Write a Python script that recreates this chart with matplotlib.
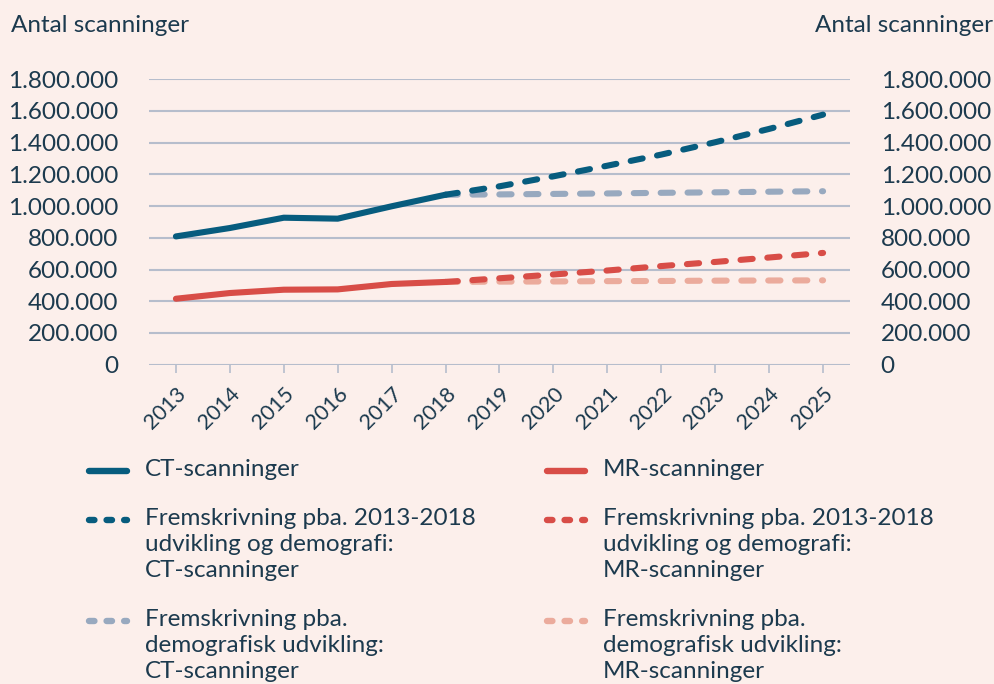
import matplotlib.pyplot as plt
from matplotlib.lines import Line2D
from matplotlib.ticker import FuncFormatter

plt.rcParams['font.family'] = ['Lato', 'DejaVu Sans']

years_hist = [2013, 2014, 2015, 2016, 2017, 2018]
years_proj = [2018, 2019, 2020, 2021, 2022, 2023, 2024, 2025]
all_years = list(range(2013, 2026))

ct = [809000, 862000, 927000, 921000, 999000, 1072000]
mr = [416000, 452000, 473000, 475000, 509000, 522000]

ct_trend = [1072000, 1125000, 1188000, 1255000, 1325000, 1403000, 1487000, 1577000]
mr_trend = [522000, 545000, 569000, 594000, 622000, 648000, 676000, 705000]
ct_demo = [1072000, 1074000, 1077000, 1080000, 1084000, 1087000, 1091000, 1094000]
mr_demo = [522000, 524000, 525000, 527000, 528000, 530000, 531000, 532000]

labels = [
    'CT-scanninger',
    'MR-scanninger',
    'Fremskrivning pba. 2013-2018\nudvikling og demografi:\nCT-scanninger',
    'Fremskrivning pba. 2013-2018\nudvikling og demografi:\nMR-scanninger',
    'Fremskrivning pba.\ndemografisk udvikling:\nCT-scanninger',
    'Fremskrivning pba.\ndemografisk udvikling:\nMR-scanninger',
]

bg = '#fcefeb'
txt = '#1c3a4e'
grid_c = '#b6bdcc'
c_ct = '#075c7e'
c_mr = '#d84d47'
c_ct_demo = '#98a9bf'
c_mr_demo = '#ebab9c'

fig = plt.figure(figsize=(9.95, 6.84), dpi=100, facecolor=bg)
ax = fig.add_axes([0.1497, 0.4668, 0.7046, 0.4173])
ax.set_facecolor(bg)

lw = 4.4
dash = (2.0, 2.4)
# demographic projections first so the trend lines sit on top
ax.plot(years_proj, ct_demo, color=c_ct_demo, lw=lw, dashes=dash,
        dash_capstyle='round')
ax.plot(years_proj, mr_demo, color=c_mr_demo, lw=lw, dashes=dash,
        dash_capstyle='round')
ax.plot(years_proj, ct_trend, color=c_ct, lw=lw, dashes=dash,
        dash_capstyle='round')
ax.plot(years_proj, mr_trend, color=c_mr, lw=lw, dashes=dash,
        dash_capstyle='round')
ax.plot(years_hist, ct, color=c_ct, lw=lw, solid_capstyle='round',
        solid_joinstyle='round')
ax.plot(years_hist, mr, color=c_mr, lw=lw, solid_capstyle='round',
        solid_joinstyle='round')

ax.set_xlim(2012.5, 2025.5)
ax.set_ylim(0, 1800000)
ax.set_yticks(range(0, 1800001, 200000))
ax.set_xticks(all_years)
ax.yaxis.set_major_formatter(FuncFormatter(lambda v, p: f'{int(v):,}'.replace(',', '.')))

for s in ax.spines.values():
    s.set_visible(False)
ax.grid(axis='y', color=grid_c, lw=1.5)
ax.set_axisbelow(True)

ax.tick_params(axis='y', length=0, pad=22, labelsize=17.5, labelcolor=txt,
               right=False, labelright=True)
ax.tick_params(axis='x', length=5.8, width=1.2, color=grid_c, pad=8,
               labelsize=15.5, labelcolor=txt)
for t in ax.get_xticklabels():
    t.set_rotation(45)
    t.set_ha('right')
    t.set_va('top')
    t.set_rotation_mode('anchor')

fig.text(0.011, 0.963, 'Antal scanninger', fontsize=17.5, color=txt, ha='left', va='center')
fig.text(0.998, 0.963, 'Antal scanninger', fontsize=17.5, color=txt, ha='right', va='center')

# legend, two columns: solid handles and three-dot handles
dots = (0.85, 1.9)
handles = [
    (c_ct, None), (c_mr, None),
    (c_ct, dots), (c_mr, dots),
    (c_ct_demo, dots), (c_mr_demo, dots),
]
col_x = [86, 544]
row_y = [471, 520, 621]
W, H = 995, 684
for i, (lab, (col, ds)) in enumerate(zip(labels, handles)):
    x0 = col_x[i % 2]
    y = row_y[i // 2]
    ln = Line2D([(x0 + 3) / W, (x0 + 41) / W], [1 - y / H, 1 - y / H],
                transform=fig.transFigure, color=col, lw=4.6,
                solid_capstyle='round', dash_capstyle='round')
    if ds is not None:
        ln.set_dashes(ds)
    fig.add_artist(ln)
    fig.text((x0 + 59) / W, 1 - (y - 12) / H, lab, fontsize=17.5, color=txt,
             ha='left', va='top', linespacing=1.3)

fig.savefig('out.png', dpi=100, facecolor=bg)
